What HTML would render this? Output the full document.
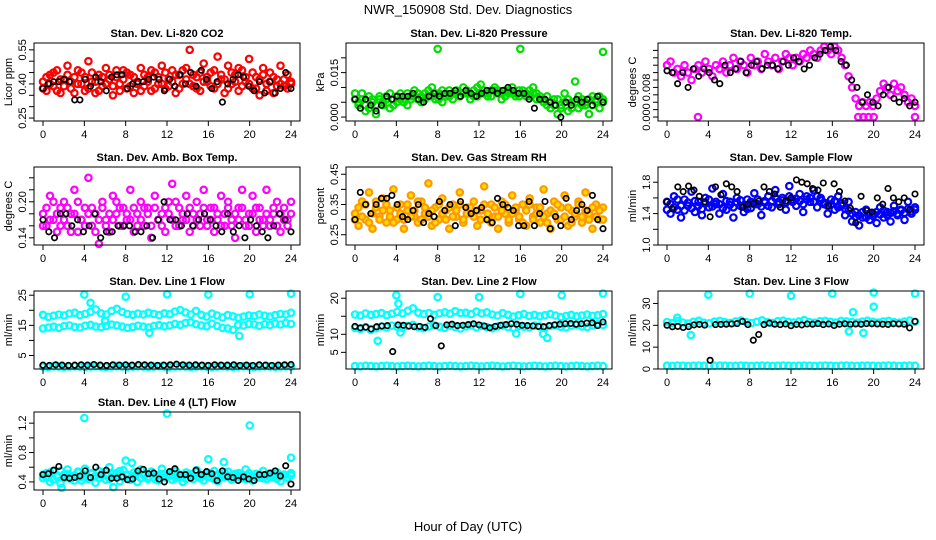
<!DOCTYPE html>
<html><head><meta charset="utf-8"><style>
html,body{margin:0;padding:0;background:#fff}
svg{display:block}
text{font-family:"Liberation Sans",sans-serif;fill:#000}
</style></head><body>
<svg id="chart" width="936" height="540" viewBox="0 0 936 540" xmlns="http://www.w3.org/2000/svg">
<text x="468" y="14" text-anchor="middle" font-size="13">NWR_150908  Std. Dev. Diagnostics</text>
<text x="468" y="531" text-anchor="middle" font-size="13">Hour of Day (UTC)</text>
</svg>
<script>
const xTicks=[0,4,8,12,16,20,24];
// Panel 1: CO2
const co2Red=[0.41,0.37,0.44,0.39,0.46,0.36,0.42,0.48,0.38,0.43,0.40,0.45,0.37,0.50,0.41,0.36,0.44,0.39,0.47,0.42,0.35,0.43,0.40,0.46,0.38,0.44,0.36,0.41,0.47,0.39,0.43,0.37,0.45,0.40,0.48,0.38,0.42,0.46,0.36,0.44,0.40,0.47,0.55,0.39,0.43,0.37,0.49,0.41,0.45,0.38,0.52,0.42,0.36,0.48,0.40,0.44,0.37,0.46,0.41,0.51,0.38,0.43,0.35,0.47,0.40,0.45,0.36,0.42,0.48,0.39,0.44,0.40];
const co2Red2=[0.38,0.43,0.40,0.45,0.37,0.42,0.39,0.44,0.41,0.36,0.46,0.40,0.43,0.38,0.45,0.41,0.37,0.43,0.40,0.44,0.39,0.46,0.37,0.42,0.45,0.39,0.43,0.40,0.37,0.44,0.41,0.46,0.38,0.43,0.40,0.45,0.39,0.41,0.44,0.38,0.46,0.42,0.40,0.44,0.38,0.45,0.41,0.43,0.39,0.46,0.40,0.44,0.42,0.38,0.45,0.41,0.47,0.39,0.43,0.40,0.45,0.38,0.42,0.44,0.37,0.41,0.43,0.39,0.40,0.42,0.38,0.41];
const co2Black=[0.38,0.40,0.41,0.41,0.42,0.41,0.33,0.33,0.42,0.39,0.43,0.41,0.37,0.43,0.44,0.44,0.38,0.40,0.41,0.41,0.42,0.43,0.42,0.37,0.42,0.39,0.44,0.40,0.45,0.39,0.46,0.42,0.38,0.41,0.32,0.40,0.42,0.44,0.43,0.39,0.37,0.41,0.36,0.41,0.36,0.38,0.45,0.38];
// Panel 2: pressure
const presGreen=[0.006,0.004,0.008,0.002,0.007,0.005,0.001,0.006,0.004,0.007,0.003,0.006,0.005,0.008,0.006,0.004,0.007,0.009,0.006,0.005,0.008,0.007,0.010,0.006,0.008,0.005,0.007,0.009,0.006,0.008,0.007,0.010,0.008,0.006,0.009,0.007,0.011,0.008,0.007,0.009,0.010,0.008,0.006,0.009,0.008,0.010,0.007,0.009,0.008,0.007,0.009,0.010,0.008,0.006,0.005,0.007,0.003,0.006,0.001,0.004,0.008,0.002,0.005,0.012,0.003,0.006,0.004,0.001,0.007,0.005,0.003,0.006];
const presGreen2=[0.008,0.005,0.006,0.004,0.003,0.006,0.004,0.007,0.005,0.006,0.008,0.004,0.007,0.006,0.005,0.008,0.006,0.007,0.008,0.007,0.006,0.009,0.007,0.008,0.006,0.009,0.008,0.007,0.008,0.009,0.007,0.008,0.009,0.008,0.007,0.010,0.008,0.009,0.008,0.007,0.009,0.009,0.008,0.007,0.009,0.008,0.008,0.007,0.009,0.008,0.007,0.008,0.006,0.007,0.006,0.004,0.005,0.004,0.006,0.003,0.005,0.006,0.003,0.005,0.007,0.004,0.005,0.006,0.004,0.006,0.007,0.005];
const presBlack=[0.006,0.003,0.006,0.004,0.002,0.004,0.007,0.006,0.007,0.007,0.007,0.008,0.006,0.005,0.007,0.008,0.007,0.008,0.008,0.009,0.007,0.009,0.008,0.007,0.008,0.009,0.009,0.008,0.009,0.010,0.009,0.008,0.008,0.006,0.003,0.006,0.006,0.005,0.004,0.000,0.005,0.004,0.006,0.005,0.006,0.004,0.007,0.005];
const presOutHours=[8,16,24];
const presOutVals=[0.023,0.023,0.022];
// Panel 3: Li-820 temp
const tempMag=[0.014,0.015,0.012,0.013,0.011,0.014,0.012,0.010,0.013,0.014,0.012,0.015,0.013,0.011,0.014,0.013,0.015,0.012,0.014,0.016,0.013,0.015,0.014,0.012,0.016,0.014,0.015,0.013,0.017,0.015,0.014,0.016,0.013,0.015,0.017,0.016,0.014,0.016,0.015,0.017,0.016,0.018,0.017,0.016,0.018,0.019,0.018,0.017,0.019,0.018,0.016,0.014,0.011,0.008,0.005,0.003,0.004,0.003,0.004,0.003,0.005,0.007,0.009,0.008,0.006,0.009,0.007,0.008,0.006,0.004,0.005,0.003];
const tempBlack=[0.0125,0.012,0.009,0.012,0.008,0.013,0.011,0.013,0.012,0.010,0.009,0.014,0.012,0.013,0.015,0.012,0.014,0.015,0.013,0.014,0.014,0.013,0.015,0.014,0.016,0.015,0.013,0.014,0.016,0.017,0.018,0.019,0.018,0.015,0.014,0.010,0.008,0.004,0.006,0.004,0.003,0.006,0.008,0.005,0.004,0.005,0.003,0.004];
const tempOutHours=[3,18.5,19,19.5,20,24];
const tempOutVals=[0,0,0,0,0,0];
// Panel 4: amb box temp
const boxMag=[0.18,0.16,0.21,0.17,0.15,0.19,0.20,0.16,0.18,0.22,0.15,0.17,0.19,0.24,0.16,0.18,0.13,0.20,0.17,0.15,0.21,0.18,0.16,0.19,0.17,0.22,0.15,0.18,0.20,0.16,0.19,0.14,0.21,0.17,0.18,0.15,0.20,0.23,0.16,0.19,0.17,0.21,0.15,0.18,0.20,0.16,0.22,0.17,0.19,0.15,0.18,0.21,0.16,0.20,0.17,0.14,0.19,0.22,0.16,0.18,0.21,0.15,0.19,0.17,0.22,0.16,0.18,0.20,0.15,0.19,0.17,0.20];
const boxMag2=[0.16,0.19,0.17,0.20,0.18,0.16,0.17,0.19,0.15,0.18,0.20,0.17,0.16,0.18,0.19,0.15,0.17,0.19,0.16,0.18,0.17,0.20,0.19,0.16,0.18,0.17,0.19,0.16,0.17,0.19,0.18,0.16,0.19,0.17,0.16,0.19,0.18,0.17,0.20,0.16,0.18,0.17,0.19,0.16,0.17,0.18,0.19,0.16,0.17,0.19,0.17,0.16,0.18,0.19,0.16,0.18,0.17,0.19,0.17,0.16,0.18,0.19,0.17,0.16,0.18,0.17,0.19,0.16,0.18,0.17,0.16,0.18];
const boxBlack=[0.17,0.15,0.14,0.18,0.18,0.16,0.17,0.15,0.16,0.18,0.14,0.15,0.15,0.16,0.16,0.16,0.15,0.15,0.16,0.14,0.17,0.20,0.17,0.17,0.16,0.18,0.16,0.17,0.18,0.17,0.16,0.15,0.18,0.15,0.16,0.14,0.17,0.16,0.15,0.14,0.16,0.18,0.17,0.15];
// Panel 5: RH
const rhOrange=[0.32,0.28,0.36,0.30,0.39,0.27,0.34,0.31,0.37,0.29,0.33,0.40,0.30,0.35,0.27,0.33,0.38,0.31,0.29,0.36,0.32,0.42,0.28,0.34,0.30,0.37,0.33,0.27,0.35,0.31,0.39,0.29,0.34,0.32,0.36,0.28,0.33,0.41,0.30,0.35,0.31,0.27,0.36,0.32,0.29,0.38,0.33,0.30,0.35,0.28,0.37,0.31,0.34,0.29,0.40,0.32,0.27,0.36,0.30,0.34,0.38,0.28,0.33,0.31,0.36,0.29,0.39,0.32,0.27,0.35,0.30,0.34];
const rhOrange2=[0.30,0.34,0.31,0.35,0.29,0.32,0.36,0.30,0.33,0.35,0.31,0.29,0.34,0.32,0.30,0.35,0.31,0.33,0.36,0.30,0.34,0.31,0.33,0.29,0.35,0.32,0.30,0.34,0.31,0.33,0.35,0.30,0.32,0.34,0.31,0.33,0.30,0.35,0.32,0.29,0.34,0.31,0.33,0.35,0.30,0.32,0.34,0.31,0.29,0.33,0.35,0.30,0.32,0.34,0.31,0.29,0.33,0.32,0.35,0.30,0.31,0.34,0.29,0.32,0.35,0.31,0.33,0.30,0.34,0.31,0.33,0.30];
const rhBlack=[0.30,0.39,0.35,0.32,0.35,0.37,0.37,0.38,0.35,0.31,0.30,0.33,0.35,0.29,0.32,0.31,0.36,0.33,0.35,0.28,0.36,0.34,0.32,0.33,0.34,0.30,0.29,0.37,0.35,0.34,0.33,0.28,0.28,0.36,0.28,0.32,0.36,0.27,0.31,0.28,0.37,0.30,0.33,0.35,0.33,0.38,0.30,0.27];
// Panel 6: sample flow
const flowBlue=[1.55,1.40,1.62,1.45,1.35,1.58,1.50,1.68,1.42,1.55,1.38,1.60,1.48,1.72,1.52,1.40,1.65,1.45,1.55,1.35,1.60,1.50,1.42,1.58,1.47,1.66,1.52,1.38,1.56,1.62,1.48,1.70,1.55,1.60,1.45,1.75,1.58,1.50,1.65,1.42,1.62,1.55,1.70,1.48,1.60,1.52,1.40,1.58,1.45,1.62,1.50,1.38,1.55,1.30,1.42,1.25,1.35,1.45,1.32,1.40,1.28,1.48,1.35,1.42,1.30,1.50,1.38,1.45,1.32,1.55,1.40,1.48];
const flowBlue2=[1.45,1.52,1.48,1.58,1.50,1.44,1.54,1.47,1.56,1.50,1.46,1.53,1.58,1.49,1.55,1.52,1.47,1.56,1.51,1.48,1.54,1.57,1.50,1.46,1.55,1.52,1.58,1.49,1.54,1.50,1.56,1.60,1.52,1.57,1.54,1.62,1.55,1.59,1.56,1.52,1.58,1.60,1.55,1.62,1.57,1.54,1.50,1.52,1.56,1.48,1.53,1.46,1.44,1.40,1.36,1.38,1.42,1.35,1.40,1.37,1.42,1.39,1.44,1.38,1.41,1.43,1.40,1.44,1.41,1.46,1.43,1.45];
const flowBlack=[1.55,1.46,1.74,1.68,1.75,1.70,1.62,1.55,1.36,1.74,1.64,1.78,1.74,1.68,1.48,1.52,1.53,1.56,1.74,1.68,1.65,1.48,1.56,1.60,1.83,1.80,1.78,1.72,1.70,1.79,1.50,1.78,1.68,1.56,1.47,1.28,1.62,1.44,1.42,1.60,1.52,1.72,1.60,1.55,1.60,1.45,1.65];
// Panel 7: line 1
const l1Upper=[18.5,17.8,18.2,18.6,18.3,18.9,19.2,18.4,18.8,19.5,20.3,19.0,18.6,19.8,20.5,19.5,18.8,18.5,18.9,18.6,19.2,18.8,18.4,19.0,18.7,19.6,20.1,19.3,18.6,19.8,18.5,17.9,18.9,18.3,17.6,18.4,18.0,17.5,17.9,18.3,18.1,18.6,18.2,17.9,18.4,18.8,18.6,19.2];
const l1Lower=[14.0,14.3,14.6,14.2,14.8,15.0,14.5,14.3,14.9,15.2,14.6,14.4,14.8,15.3,15.0,14.6,14.2,14.5,14.9,14.6,14.3,14.8,15.1,14.7,15.0,15.5,15.2,15.8,16.0,15.4,15.0,14.7,15.6,14.8,14.2,14.0,13.5,15.2,15.0,15.5,15.3,14.9,15.4,15.1,15.6,15.3,15.8,15.5];
const l1Base=[1.3,1.2,1.4,1.3,1.2,1.3,1.4,1.3,1.2,1.3,1.4,1.3,1.2,1.3,1.4,1.3,1.2,1.3,1.4,1.3,1.2,1.3,1.4,1.3,1.2,1.3,1.4,1.3,1.2,1.3,1.4,1.3,1.2,1.3,1.4,1.3,1.2,1.3,1.4,1.3,1.2,1.3,1.4,1.3,1.2,1.3,1.4,1.3];
const l1Black=[1.8,1.7,1.9,1.8,1.7,1.8,1.9,1.8,2.0,1.8,1.7,1.9,1.8,1.9,1.8,2.0,1.9,1.8,1.7,1.8,1.9,2.1,1.9,1.8,1.9,1.8,1.7,1.9,1.8,1.8,1.9,1.7,1.8,1.7,1.9,1.8,1.7,1.8,1.9,2.0];
const l1OutHours=[4,4.6,6,8,10.3,12,16,19,20,24];
const l1OutVals=[25.2,22.5,16.5,24.5,12.5,25.3,25.2,11.5,25.3,25.5];
// Panel 8: line 2
const l2Upper=[15.5,15.2,15.8,15.4,15.6,15.9,15.3,15.7,16.2,15.8,16.5,17.2,16.0,15.6,15.9,15.4,15.8,16.1,15.7,16.4,15.9,16.0,15.6,16.3,15.8,16.1,15.5,15.2,15.9,15.4,14.9,15.3,15.6,15.1,15.4,15.0,15.3,15.6,15.2,14.8,15.1,15.4,15.0,15.2,15.5,15.1,15.3,15.6];
const l2Lower=[11.8,11.5,12.0,11.2,11.7,12.2,11.9,12.4,12.1,11.8,12.3,12.6,12.0,11.7,12.2,12.5,12.1,11.8,12.4,12.0,11.6,12.2,12.5,11.9,12.3,12.0,11.7,12.2,12.4,12.0,11.8,12.3,12.1,11.9,12.4,12.2,11.8,12.3,12.5,12.1,11.9,12.4,12.7,12.2,12.0,12.5,12.8,12.6];
const l2Base=[1.2,1.1,1.3,1.2,1.1,1.2,1.3,1.2,1.1,1.2,1.3,1.2,1.1,1.2,1.3,1.2,1.1,1.2,1.3,1.2,1.1,1.2,1.3,1.2,1.1,1.2,1.3,1.2,1.1,1.2,1.3,1.2,1.1,1.2,1.3,1.2,1.1,1.2,1.3,1.2,1.1,1.2,1.3,1.2,1.1,1.2,1.3,1.2];
const l2Black=[12.2,11.8,12.0,11.5,12.1,12.3,12.4,5.2,12.6,12.5,12.3,12.1,12.2,11.9,14.3,12.4,6.8,12.6,12.8,12.4,12.5,12.7,12.9,12.6,12.3,11.8,12.2,12.5,12.7,12.9,12.8,12.5,12.4,12.3,12.2,12.1,12.4,12.6,12.8,12.9,13.0,12.8,12.9,13.1,13.2,12.4,13.4];
const l2OutHours=[2.2,4,4.2,4.4,8,12,15.6,16,18.2,18.6,20,24];
const l2OutVals=[8.2,20.8,18.5,10.5,20.3,20.3,10.2,21.2,10.1,9.0,20.8,21.3];
// Panel 9: line 3
const l3Cyan=[21.5,21.0,22.0,21.3,20.8,21.6,22.1,21.2,20.9,21.7,22.0,21.4,21.1,21.8,22.2,21.5,21.0,21.6,22.3,21.4,21.1,21.9,22.1,21.6,21.3,21.8,22.4,21.5,21.2,21.9,22.0,21.6,21.3,22.0,21.8,21.5,21.2,21.7,22.1,21.6,21.3,21.8,22.0,21.5,21.2,21.7,22.2,21.6];
const l3Base=[1.5,1.4,1.6,1.5,1.4,1.5,1.6,1.5,1.4,1.5,1.6,1.5,1.4,1.5,1.6,1.5,1.4,1.5,1.6,1.5,1.4,1.5,1.6,1.5,1.4,1.5,1.6,1.5,1.4,1.5,1.6,1.5,1.4,1.5,1.6,1.5,1.4,1.5,1.6,1.5,1.4,1.5,1.6,1.5,1.4,1.5,1.6,1.5];
const l3Black=[20.0,19.3,19.5,19.0,19.4,20.2,20.4,20.1,4.0,20.3,20.4,20.5,20.6,20.8,21.8,20.3,13.2,15.8,20.3,21.0,20.5,20.3,20.6,19.8,20.4,20.2,20.6,20.5,20.8,20.3,20.6,19.9,20.5,20.7,20.4,20.6,20.5,20.8,20.7,20.6,20.5,20.4,20.7,20.6,20.5,18.8,21.8];
const l3OutHours=[1,2.3,4,8,12,16,17.6,18,19,20,20,24];
const l3OutVals=[23.5,15.5,34,34.5,33.5,34.5,17.2,26,16.5,35,28.5,34.5];
// Panel 10: line 4
const l4Cyan=[0.45,0.52,0.40,0.55,0.47,0.38,0.50,0.57,0.44,0.49,0.53,0.42,0.58,0.46,0.51,0.39,0.55,0.48,0.43,0.60,0.47,0.52,0.41,0.56,0.49,0.45,0.53,0.40,0.57,0.48,0.44,0.54,0.50,0.42,0.58,0.46,0.51,0.43,0.55,0.47,0.40,0.53,0.49,0.44,0.56,0.48,0.42,0.52,0.46,0.55,0.41,0.50,0.47,0.54,0.43,0.49,0.52,0.45,0.57,0.48,0.42,0.51,0.46,0.55,0.44,0.50,0.47,0.53,0.41,0.49,0.45,0.52];
const l4Cyan2=[0.50,0.46,0.53,0.43,0.49,0.55,0.45,0.51,0.48,0.42,0.54,0.47,0.50,0.44,0.52,0.48,0.45,0.53,0.49,0.44,0.51,0.47,0.55,0.46,0.50,0.43,0.48,0.52,0.45,0.50,0.47,0.53,0.44,0.49,0.51,0.46,0.48,0.52,0.45,0.50,0.47,0.44,0.51,0.48,0.53,0.45,0.49,0.47,0.52,0.44,0.50,0.46,0.53,0.48,0.45,0.51,0.47,0.50,0.44,0.52,0.48,0.46,0.50,0.45,0.49,0.47,0.52,0.44,0.48,0.50,0.46,0.49];
const l4Black=[0.50,0.51,0.56,0.61,0.46,0.45,0.46,0.48,0.55,0.46,0.60,0.50,0.56,0.45,0.45,0.47,0.43,0.44,0.55,0.57,0.51,0.52,0.44,0.40,0.54,0.58,0.50,0.50,0.45,0.56,0.50,0.54,0.51,0.42,0.55,0.47,0.46,0.42,0.47,0.44,0.42,0.50,0.50,0.52,0.55,0.48,0.62,0.37];
const l4OutHours=[1.8,4,6.8,8,8.6,12,16,17.5,20,24];
const l4OutVals=[0.32,1.27,0.33,0.69,0.66,1.33,0.71,0.67,1.17,0.73];

const svg=document.getElementById('chart');
const NS='http://www.w3.org/2000/svg';
function mk(tag,attrs){const e=document.createElementNS(NS,tag);for(const k in attrs)e.setAttribute(k,attrs[k]);svg.appendChild(e);return e;}

const panels=[
 {key:'co2',col:0,row:0,title:'Stan. Dev. Li-820 CO2',ylab:'Licor ppm',yTop:0.580,yBot:0.237,ticks:[0.25,0.30,0.35,0.40,0.45,0.50,0.55],labels:['0.25','0.40','0.55'],dec:2,
  series:[{v:co2Red,c:'#ff0000'},{v:co2Red2,c:'#ff0000'},{v:co2Black,c:'#000'}]},
 {key:'pressure',col:1,row:0,title:'Stan. Dev. Li-820 Pressure',ylab:'kPa',yTop:0.025,yBot:-0.00133,ticks:[0,0.005,0.01,0.015,0.02],labels:['0.000','0.015'],dec:3,
  series:[{v:presGreen,c:'#00e000'},{v:presGreen2,c:'#00e000'},{v:presBlack,c:'#000'},{v:presOutVals,h:presOutHours,c:'#00e000'}]},
 {key:'li820-temp',col:2,row:0,title:'Stan. Dev. Li-820 Temp.',ylab:'degrees C',yTop:0.020,yBot:-0.00107,ticks:[0,0.002,0.004,0.006,0.008,0.010,0.012,0.014,0.016,0.018],labels:['0.000','0.008'],dec:3,
  series:[{v:tempMag,c:'#ff00ff'},{v:tempBlack,c:'#000'},{v:tempOutVals,h:tempOutHours,c:'#ff00ff'}]},
 {key:'box-temp',col:0,row:1,title:'Stan. Dev. Amb. Box Temp.',ylab:'degrees C',yTop:0.258,yBot:0.128,ticks:[0.14,0.16,0.18,0.20,0.22,0.24],labels:['0.14','0.20'],dec:2,
  series:[{v:boxMag,c:'#ff00ff'},{v:boxMag2,c:'#ff00ff'},{v:boxBlack,c:'#000'}]},
 {key:'rh',col:1,row:1,title:'Stan. Dev. Gas Stream RH',ylab:'percent',yTop:0.474,yBot:0.216,ticks:[0.25,0.30,0.35,0.40,0.45],labels:['0.25','0.35','0.45'],dec:2,
  series:[{v:rhOrange,c:'#ff9900',f:'#ffdd00'},{v:rhOrange2,c:'#ff9900',f:'#ffdd00'},{v:rhBlack,c:'#000'}]},
 {key:'sample-flow',col:2,row:1,title:'Stan. Dev. Sample Flow',ylab:'ml/min',yTop:1.994,yBot:1.0,ticks:[1.0,1.2,1.4,1.6,1.8],labels:['1.0','1.4','1.8'],dec:1,
  series:[{v:flowBlue,c:'#0000ff'},{v:flowBlue2,c:'#0000ff'},{v:flowBlack,c:'#000'}]},
 {key:'line1',col:0,row:2,title:'Stan. Dev. Line 1 Flow',ylab:'ml/min',yTop:26.4,yBot:0.52,ticks:[5,10,15,20,25],labels:['5','15','25'],dec:0,
  series:[{v:l1Upper,c:'#00ffff'},{v:l1Lower,c:'#00ffff'},{v:l1Base,c:'#00ffff'},{v:l1Black,c:'#000'},{v:l1OutVals,h:l1OutHours,c:'#00ffff'}]},
 {key:'line2',col:1,row:2,title:'Stan. Dev. Line 2 Flow',ylab:'ml/min',yTop:22.0,yBot:0.385,ticks:[5,10,15,20],labels:['5','10','20'],dec:0,
  series:[{v:l2Upper,c:'#00ffff'},{v:l2Lower,c:'#00ffff'},{v:l2Base,c:'#00ffff'},{v:l2Black,c:'#000'},{v:l2OutVals,h:l2OutHours,c:'#00ffff'}]},
 {key:'line3',col:2,row:2,title:'Stan. Dev. Line 3 Flow',ylab:'ml/min',yTop:35.7,yBot:0,ticks:[0,10,20,30],labels:['0','10','20','30'],dec:0,
  series:[{v:l3Cyan,c:'#00ffff'},{v:l3Base,c:'#00ffff'},{v:l3Black,c:'#000'},{v:l3OutVals,h:l3OutHours,c:'#00ffff'}]},
 {key:'line4',col:0,row:3,title:'Stan. Dev. Line 4 (LT) Flow',ylab:'ml/min',yTop:1.352,yBot:0.29,ticks:[0.4,0.6,0.8,1.0,1.2],labels:['0.4','0.8','1.2'],dec:1,
  series:[{v:l4Cyan,c:'#00ffff'},{v:l4Cyan2,c:'#00ffff'},{v:l4Black,c:'#000'},{v:l4OutVals,h:l4OutHours,c:'#00ffff'}]}
];
const rowTops=[43,167,291,412];
panels.forEach(p=>{
  const L=34+p.col*312, W=266, T=rowTops[p.row], H=78;
  const xs=h=>L+9+h*(248/24);
  const ys=v=>T+(p.yTop-v)/(p.yTop-p.yBot)*H;
  const g=mk('g',{});
  
  
  const tt=mk('text',{x:L+W/2,y:T-6,'text-anchor':'middle','font-size':'11','font-weight':'bold'});
  tt.textContent=p.title;
  
  
  const yl=mk('text',{x:0,y:0,'text-anchor':'middle','font-size':'11',transform:`translate(${L-22},${T+H/2}) rotate(-90)`});
  yl.textContent=p.ylab;
  
  
  p.series.forEach((s,si)=>{
    const isBlack=s.c==='#000';
    s.v.forEach((val,i)=>{
      const h=s.h?s.h[i]:i*24/(s.v.length-1);
      const c=mk('circle',{cx:xs(h).toFixed(1),cy:ys(val).toFixed(1),r:isBlack?'2.7':'3.2',fill:s.f||'none',stroke:s.c,'stroke-width':isBlack?'1.7':'2.2'});
      
      
    });
  });
  const box=mk('rect',{x:L,y:T,width:W,height:H,fill:'none',stroke:'#000','stroke-width':'1'});
  
  
  xTicks.forEach(t=>{
    const x=xs(t);
    const tk=mk('line',{x1:x,y1:T+H,x2:x,y2:T+H+5,stroke:'#000'});
    
    
    const lb=mk('text',{x:x,y:T+H+17,'text-anchor':'middle','font-size':'11'});
    lb.textContent=t;
    
    
  });
  p.ticks.forEach(t=>{
    const y=ys(t);
    const tk=mk('line',{x1:L-5,y1:y,x2:L,y2:y,stroke:'#000'});
    
    
    const s=t.toFixed(p.dec);
    if(p.labels.indexOf(s)>=0){
      const lb=mk('text',{x:0,y:0,'text-anchor':'middle','font-size':'11',transform:`translate(${L-8},${y}) rotate(-90)`});
      lb.textContent=s;
      
      
    }
  });
});
</script>
</body></html>
